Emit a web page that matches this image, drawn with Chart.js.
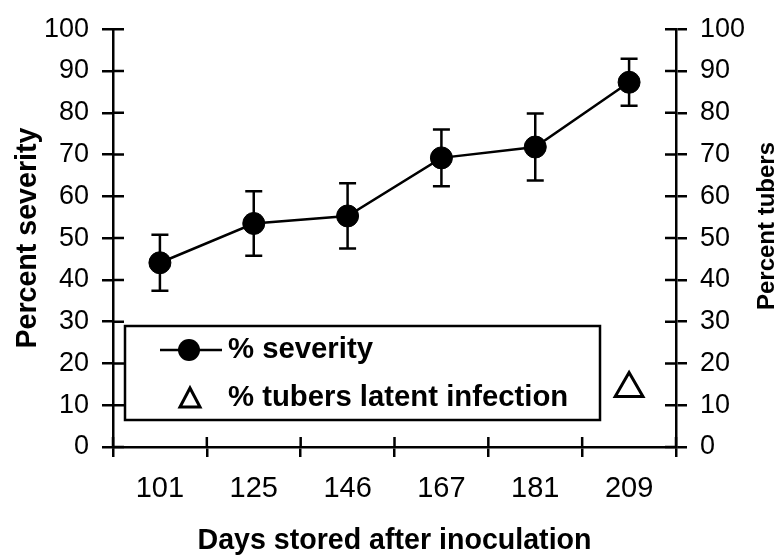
<!DOCTYPE html>
<html>
<head>
<meta charset="utf-8">
<script src="https://cdn.jsdelivr.net/npm/chart.js@4"></script>
<style>
  html, body { margin: 0; padding: 0; background: #fff; }
  #wrap { width: 784px; height: 556px; position: relative; }
</style>
</head>
<body>
<div id="wrap"><canvas id="chart"></canvas></div>
<script>
const days = ['101', '125', '146', '167', '181', '209'];
const severity = [44.1, 53.5, 55.3, 69.2, 71.8, 87.3];
const severityErr = [6.7, 7.7, 7.8, 6.8, 8.0, 5.6];
const tubersLatent = [null, null, null, null, null, 14];
const yMin = 0, yMax = 100, yStep = 10;

const FONT = "'Liberation Sans', Arial, sans-serif";

// error bars + inner half of the crossing tick marks
const axisExtras = {
  id: 'axisExtras',
  beforeDatasetsDraw(chart) {
    const { ctx, chartArea: ca, scales } = chart;
    const x = scales.x, y = scales.y;
    ctx.save();
    ctx.strokeStyle = '#000';
    ctx.lineWidth = 2.5;

    // inner ticks on both y axes
    ctx.beginPath();
    for (let v = yMin; v <= yMax; v += yStep) {
      const py = y.getPixelForValue(v);
      ctx.moveTo(ca.left, py); ctx.lineTo(ca.left + 11, py);
      ctx.moveTo(ca.right, py); ctx.lineTo(ca.right - 11, py);
    }
    // inner ticks on x axis at category boundaries
    const half = (x.getPixelForValue(1) - x.getPixelForValue(0)) / 2;
    for (let i = 0; i <= days.length; i++) {
      const px = x.getPixelForValue(i) - half;
      ctx.moveTo(px, ca.bottom); ctx.lineTo(px, ca.bottom - 10);
    }
    ctx.stroke();

    // error bars
    ctx.beginPath();
    severity.forEach((v, i) => {
      const px = x.getPixelForValue(i);
      const top = y.getPixelForValue(v + severityErr[i]);
      const bot = y.getPixelForValue(v - severityErr[i]);
      ctx.moveTo(px, top); ctx.lineTo(px, bot);
      ctx.moveTo(px - 8.5, top); ctx.lineTo(px + 8.5, top);
      ctx.moveTo(px - 8.5, bot); ctx.lineTo(px + 8.5, bot);
    });
    ctx.stroke();
    ctx.restore();
  },
  afterDraw(chart) {
    const { ctx } = chart;
    ctx.save();
    ctx.fillStyle = '#000';
    ctx.strokeStyle = '#000';

    // right axis title, reads bottom to top
    ctx.font = `bold 24px ${FONT}`;
    ctx.textAlign = 'center';
    ctx.textBaseline = 'middle';
    ctx.translate(767, 226);
    ctx.rotate(-Math.PI / 2);
    ctx.fillText('Percent tubers', 0, 0);
    ctx.setTransform(1, 0, 0, 1, 0, 0);

    // legend box
    ctx.lineWidth = 2.5;
    ctx.strokeRect(125, 326, 475, 94);
    ctx.beginPath();
    ctx.moveTo(160, 350); ctx.lineTo(222, 350);
    ctx.stroke();
    ctx.beginPath();
    ctx.arc(189, 350, 11, 0, Math.PI * 2);
    ctx.fill();

    ctx.lineWidth = 3;
    ctx.beginPath();
    ctx.moveTo(190, 388); ctx.lineTo(200, 407); ctx.lineTo(180, 407);
    ctx.closePath();
    ctx.stroke();

    ctx.font = `bold 29.3px ${FONT}`;
    ctx.textAlign = 'left';
    ctx.fillText('% severity', 228, 350);
    ctx.fillText('% tubers latent infection', 228, 398);
    ctx.restore();
  }
};

const yAxisBase = (pos) => ({
  position: pos,
  min: yMin,
  max: yMax,
  ticks: {
    stepSize: yStep,
    color: '#000',
    padding: 13,
    font: { family: FONT, size: 27 }
  },
  grid: { drawOnChartArea: false, color: '#000', lineWidth: 2.5, tickLength: 11 },
  border: { color: '#000', width: 2.5 }
});

new Chart(document.getElementById('chart'), {
  type: 'line',
  data: {
    labels: days,
    datasets: [
      {
        label: '% severity',
        data: severity,
        borderColor: '#000',
        backgroundColor: '#000',
        borderWidth: 2.5,
        pointRadius: 11,
        pointHoverRadius: 11,
        pointBorderWidth: 1,
        tension: 0,
        yAxisID: 'y'
      },
      {
        label: '% tubers latent infection',
        data: tubersLatent,
        showLine: false,
        pointStyle: 'triangle',
        pointRadius: 16,
        pointHoverRadius: 16,
        borderColor: '#000',
        backgroundColor: '#fff',
        pointBorderWidth: 3,
        yAxisID: 'y2'
      }
    ]
  },
  options: {
    responsive: true,
    maintainAspectRatio: false,
    animation: false,
    events: [],
    layout: { padding: { top: 20, left: 0, right: 0, bottom: 0 } },
    plugins: { legend: { display: false }, tooltip: { enabled: false } },
    scales: {
      x: {
        offset: true,
        grid: { offset: true, drawOnChartArea: false, color: '#000', lineWidth: 2.5, tickLength: 10 },
        border: { color: '#000', width: 2.5 },
        ticks: { color: '#000', padding: 15, maxRotation: 0, font: { family: FONT, size: 29 } },
        title: {
          display: true,
          text: 'Days stored after inoculation',
          color: '#000',
          padding: { top: 0, bottom: 0 },
          font: { family: FONT, size: 28.6, weight: 'bold', lineHeight: 1.05 }
        },
        afterFit(s) { s.height = 109; }
      },
      y: Object.assign(yAxisBase('left'), {
        title: {
          display: true,
          text: 'Percent severity',
          color: '#000',
          padding: { top: 11, bottom: 0 },
          font: { family: FONT, size: 28.6, weight: 'bold', lineHeight: 1.2 }
        },
        afterFit(s) { s.width = 113; }
      }),
      y2: Object.assign(yAxisBase('right'), {
        afterFit(s) { s.width = 108; }
      })
    }
  },
  plugins: [axisExtras]
});
</script>
</body>
</html>
